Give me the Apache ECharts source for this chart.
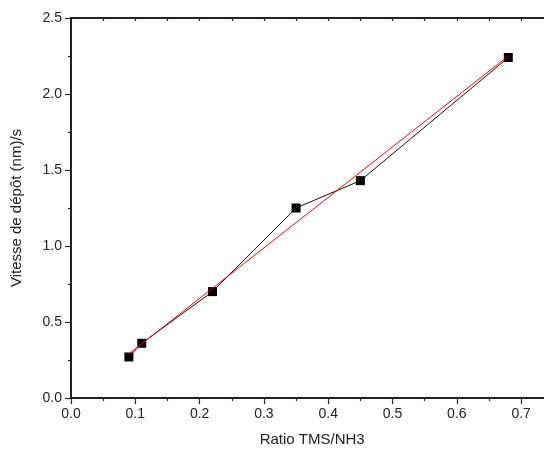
<!DOCTYPE html>
<html><head><meta charset="utf-8">
<script src="https://cdn.jsdelivr.net/npm/echarts@6/dist/echarts.min.js"></script>
<style>html,body{margin:0;padding:0;background:#fff}#c{width:544px;height:458px}</style>
</head><body><div id="c"></div>
<script>
var ratio = [0.09, 0.11, 0.22, 0.35, 0.45, 0.68];
var vitesse = [0.27, 0.36, 0.70, 1.25, 1.43, 2.24];
var fitX = [0.09, 0.68];
var fitY = [0.29, 2.25];
var xTitle = 'Ratio TMS/NH3';
var yTitle = 'Vitesse de dépôt (nm)/s';

var font = 'Liberation Sans, Arial, sans-serif';
var axisCol = '#222';
var chart = echarts.init(document.getElementById('c'), null, {renderer: 'canvas'});
chart.setOption({
  animation: false,
  backgroundColor: '#fff',
  grid: {left: 71, top: 18, right: -9.3, bottom: 60, containLabel: false, outerBoundsMode: 'none',
    show: true, borderColor: axisCol, borderWidth: 2, backgroundColor: 'transparent'},
  xAxis: [{
    type: 'value', min: 0, max: 0.75, interval: 0.1, position: 'bottom',
    name: xTitle, nameLocation: 'middle', nameGap: 34,
    nameTextStyle: {fontFamily: font, fontSize: 15, color: axisCol},
    axisLine: {show: true, onZero: false, lineStyle: {color: axisCol, width: 2}},
    axisTick: {show: true, inside: false, length: 6, lineStyle: {color: axisCol, width: 1.2}},
    minorTick: {show: true, splitNumber: 2, length: 3, lineStyle: {color: axisCol, width: 1.2}},
    axisLabel: {fontFamily: font, fontSize: 14, color: axisCol, margin: 9,
      formatter: function (v) { return v.toFixed(1); }, showMaxLabel: false},
    splitLine: {show: false}
  }, {
    type: 'value', min: 0, max: 0.75, interval: 0.05, position: 'top',
    axisLine: {show: true, onZero: false, lineStyle: {color: axisCol, width: 2}},
    axisTick: {show: true, inside: true, length: 3, lineStyle: {color: axisCol, width: 1.2}},
    axisLabel: {show: false},
    splitLine: {show: false}
  }],
  yAxis: [{
    type: 'value', min: 0, max: 2.5, interval: 0.5,
    name: yTitle, nameLocation: 'middle', nameGap: 47, nameRotate: 90,
    nameTextStyle: {fontFamily: font, fontSize: 15, color: axisCol},
    axisLine: {show: true, onZero: false, lineStyle: {color: axisCol, width: 2}},
    axisTick: {show: true, inside: false, length: 6, lineStyle: {color: axisCol, width: 1.2}},
    minorTick: {show: true, splitNumber: 2, length: 3, lineStyle: {color: axisCol, width: 1.2}},
    axisLabel: {fontFamily: font, fontSize: 14, color: axisCol, margin: 9,
      formatter: function (v) { return v.toFixed(1); }},
    splitLine: {show: false}
  }],
  series: [{
    type: 'line', data: ratio.map(function (x, i) { return [x, vitesse[i]]; }),
    symbol: 'rect', symbolSize: 9, showAllSymbol: true,
    lineStyle: {color: '#111', width: 1},
    itemStyle: {color: '#000'}, z: 3
  }, {
    type: 'line', data: fitX.map(function (x, i) { return [x, fitY[i]]; }),
    symbol: 'none', lineStyle: {color: '#ff0000', width: 1}, z: 4
  }]
});
</script>
</body></html>
